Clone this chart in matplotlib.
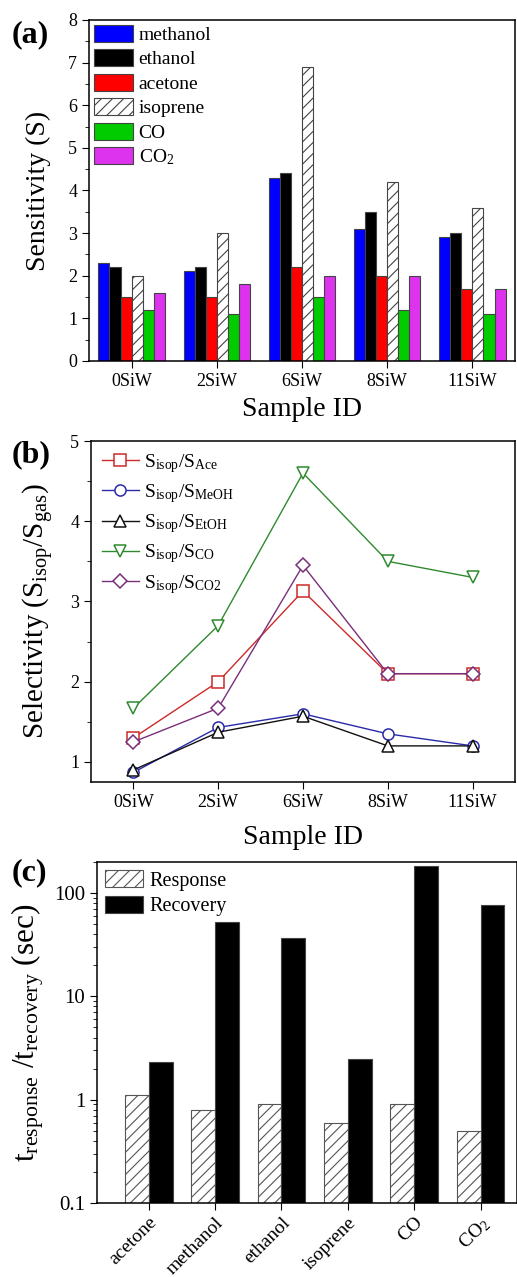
import matplotlib
matplotlib.use("Agg")
import matplotlib.pyplot as plt
import numpy as np
from matplotlib.ticker import MultipleLocator, LogLocator, NullFormatter

plt.rcParams['font.family'] = ['Liberation Serif', 'DejaVu Serif']
plt.rcParams['mathtext.fontset'] = 'custom'
plt.rcParams['mathtext.rm'] = 'Liberation Serif'
plt.rcParams['mathtext.it'] = 'Liberation Serif:italic'
plt.rcParams['hatch.color'] = '#555555'
plt.rcParams['hatch.linewidth'] = 0.8
plt.rcParams['axes.linewidth'] = 1.1
plt.rcParams['xtick.direction'] = 'out'
plt.rcParams['ytick.direction'] = 'out'

# ---- data panel (a)
samples = ['0SiW', '2SiW', '6SiW', '8SiW', '11SiW']
gases_a = ['methanol', 'ethanol', 'acetone', 'isoprene', 'CO', 'CO$_2$']
methanol = [2.3, 2.1, 4.3, 3.1, 2.9]
ethanol = [2.2, 2.2, 4.4, 3.5, 3.0]
acetone = [1.5, 1.5, 2.2, 2.0, 1.7]
isoprene = [2.0, 3.0, 6.9, 4.2, 3.6]
co = [1.2, 1.1, 1.5, 1.2, 1.1]
co2 = [1.6, 1.8, 2.0, 2.0, 1.7]

# ---- data panel (b)
sel_ace = [1.30, 2.00, 3.13, 2.10, 2.10]
sel_meoh = [0.87, 1.43, 1.60, 1.35, 1.20]
sel_etoh = [0.90, 1.37, 1.57, 1.20, 1.20]
sel_co = [1.67, 2.70, 4.60, 3.50, 3.30]
sel_co2 = [1.25, 1.67, 3.45, 2.10, 2.10]

# ---- data panel (c)
gases_c = ['acetone', 'methanol', 'ethanol', 'isoprene', 'CO', 'CO$_2$']
t_response = [1.1, 0.8, 0.9, 0.6, 0.9, 0.5]
t_recovery = [2.3, 52, 37, 2.5, 181, 77]

W, H = 517, 1277
fig = plt.figure(figsize=(W / 100, H / 100), dpi=100)

def rect(l, t, r, b):
    return [l / W, 1 - b / H, (r - l) / W, (b - t) / H]

# ================= (a)
ax1 = fig.add_axes(rect(89, 20, 515, 361))
x = np.arange(len(samples))
bw = 0.13
series = [methanol, ethanol, acetone, isoprene, co, co2]
colors = ['#0000ff', '#000000', '#ff0000', 'white', '#00cc00', '#dd33ee']
hatches = [None, None, None, '///', None, None]
for i, (vals, c, h, lab) in enumerate(zip(series, colors, hatches, gases_a)):
    off = (i - 2.5) * bw
    ax1.bar(x + off, vals, bw, color=c, edgecolor='#444444', linewidth=0.8,
            hatch=h, label=lab)
ax1.set_xlim(-0.5, 4.5)
ax1.set_ylim(0, 8)
ax1.set_xticks(x)
ax1.set_xticklabels(samples, fontsize=13)
ax1.yaxis.set_major_locator(MultipleLocator(1))
ax1.yaxis.set_minor_locator(MultipleLocator(0.5))
ax1.tick_params(axis='y', labelsize=13, length=5)
ax1.tick_params(axis='x', length=5)
ax1.tick_params(which='minor', length=3)
ax1.set_xlabel('Sample ID', fontsize=20, labelpad=5)
ax1.set_ylabel('Sensitivity (S)', fontsize=20, labelpad=12)
ax1.legend(loc='upper left', frameon=False, fontsize=14, handlelength=2.0,
           handleheight=0.95, labelspacing=0.28, handletextpad=0.3,
           borderaxespad=0.1, borderpad=0.15)
fig.text(12 / W, 1 - 42 / H, '(a)', fontsize=23, fontweight='bold')

# ================= (b)
ax2 = fig.add_axes(rect(91, 441, 515, 782))
mk = dict(markersize=8, markerfacecolor='white', markeredgewidth=1.1, linewidth=1.0)
ax2.plot(x, sel_ace, marker='s', color='#cc2a2a', label=r'S$_\mathrm{isop}$/S$_\mathrm{Ace}$', **mk)
ax2.plot(x, sel_meoh, marker='o', color='#2a2aaa', label=r'S$_\mathrm{isop}$/S$_\mathrm{MeOH}$', **mk)
ax2.plot(x, sel_etoh, marker='^', color='#111111', label=r'S$_\mathrm{isop}$/S$_\mathrm{EtOH}$', **mk)
ax2.plot(x, sel_co, marker='v', color='#2f8a2f', label=r'S$_\mathrm{isop}$/S$_\mathrm{CO}$', **mk)
ax2.plot(x, sel_co2, marker='D', color='#7a2f7a', label=r'S$_\mathrm{isop}$/S$_\mathrm{CO2}$',
         **{**mk, 'markersize': 7})
ax2.set_xlim(-0.5, 4.5)
ax2.set_ylim(0.75, 5)
ax2.set_xticks(x)
ax2.set_xticklabels(samples, fontsize=13)
ax2.yaxis.set_major_locator(MultipleLocator(1))
ax2.yaxis.set_minor_locator(MultipleLocator(0.5))
ax2.tick_params(axis='y', labelsize=13, length=5)
ax2.tick_params(axis='x', length=5)
ax2.tick_params(which='minor', length=3)
ax2.set_xlabel('Sample ID', fontsize=20, labelpad=10)
ax2.set_ylabel(r'Selectivity (S$_\mathrm{isop}$/S$_\mathrm{gas}$)', fontsize=21, labelpad=10)
ax2.legend(loc='upper left', frameon=False, fontsize=14, handlelength=1.9,
           labelspacing=0.38, handletextpad=0.3, borderaxespad=0.15)
fig.text(12 / W, 1 - 462 / H, '(b)', fontsize=23, fontweight='bold')

# ================= (c)
ax3 = fig.add_axes(rect(97, 862, 517, 1203))
xc = np.arange(len(gases_c))
bw3 = 0.36
ax3.bar(xc - bw3 / 2, t_response, bw3, color='white', edgecolor='#555555',
        linewidth=0.8, hatch='///', label='Response')
ax3.bar(xc + bw3 / 2, t_recovery, bw3, color='black', edgecolor='#444444',
        linewidth=0.8, label='Recovery')
ax3.set_yscale('log')
ax3.set_ylim(0.1, 200)
ax3.set_xlim(-0.78, 5.55)
ax3.set_yticks([0.1, 1, 10, 100])
ax3.set_yticklabels(['0.1', '1', '10', '100'])
ax3.yaxis.set_minor_locator(LogLocator(base=10, subs=np.arange(2, 10)))
ax3.yaxis.set_minor_formatter(NullFormatter())
ax3.set_xticks(xc)
ax3.set_xticklabels(gases_c, rotation=45, ha='right', rotation_mode='anchor', fontsize=14)
ax3.tick_params(axis='y', labelsize=15, length=5)
ax3.tick_params(axis='x', length=5, pad=3)
ax3.tick_params(which='minor', length=3)
ax3.set_ylabel(r'$\mathrm{t}_\mathrm{response}$ /$\mathrm{t}_\mathrm{recovery}$ (sec)',
               fontsize=22.5, labelpad=6)
ax3.legend(loc='upper left', frameon=False, fontsize=14.5, handlelength=1.9,
           handleheight=0.95, labelspacing=0.25, handletextpad=0.3,
           borderaxespad=0.2, borderpad=0.2)
fig.text(12 / W, 1 - 880 / H, '(c)', fontsize=23, fontweight='bold')

fig.savefig('out.png', dpi=100)
